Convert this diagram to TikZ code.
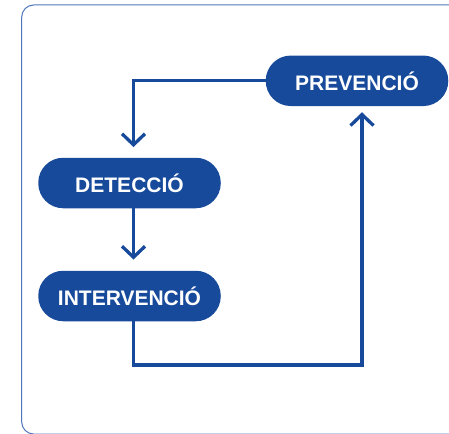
\documentclass[tikz,border=0pt]{standalone}
\usepackage{fontspec}
\setmainfont{Liberation Sans}
\usetikzlibrary{arrows.meta}
\definecolor{pillblue}{HTML}{174A9B}
\definecolor{framblue}{HTML}{4F76BA}
\tikzset{
  pill/.style={fill=pillblue, text=white, rounded corners=25pt, minimum width=182.5pt,
    minimum height=50.5pt, inner sep=0pt, font=\fontsize{21}{25}\selectfont\bfseries},
  flow/.style={draw=pillblue, line width=3.3pt},
  chev/.style={-{Straight Barb[length=11pt,width=23pt,line width=3.3pt]}}
}
\begin{document}
\begin{tikzpicture}[x=1pt,y=-1pt]
\useasboundingbox (0,0) rectangle (449,433);
\draw[overlay, framblue, line width=1pt, rounded corners=12pt] (470,5) -- (21.7,5) -- (21.7,434) -- (470,434);
\node[pill] (prev) at (357,80.8) {PREVENCIÓ};
\node[pill] (det) at (129.5,183) {DETECCIÓ};
\node[pill] (int) at (129.5,296) {INTERVENCIÓ};
\coordinate (c1) at (133.5,80.8);
\coordinate (c2) at (133.5,365);
\coordinate (c3) at (362,365);
\draw[flow, chev, shorten >=10.5pt] (prev.west) -- (c1) -- (c1 |- det.north);
\draw[flow, chev, shorten >=11pt] ([xshift=4pt]det.south) -- ([xshift=4pt]int.north);
\draw[flow, chev, shorten >=6pt] ([xshift=4pt]int.south) -- (c2) -- (c3) -- (c3 |- prev.south);
\end{tikzpicture}
\end{document}
